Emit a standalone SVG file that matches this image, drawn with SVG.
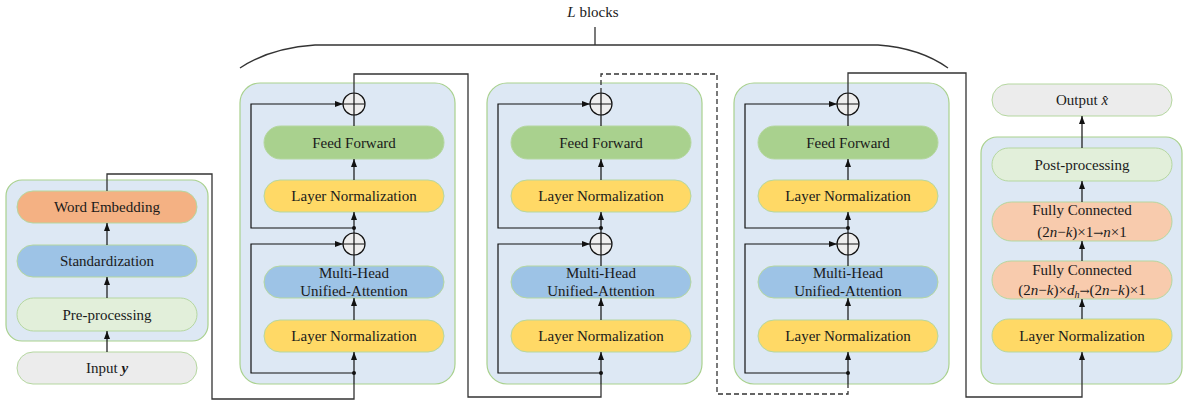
<svg xmlns="http://www.w3.org/2000/svg" width="1183" height="403" viewBox="0 0 1183 403">
  <style>
    text { font-family: "Liberation Serif", "Times New Roman", serif; font-size: 15px; fill: #1a1a1a; text-anchor: middle; }
    .panel { fill: #dde8f4; stroke: #a9d18e; stroke-width: 1.2; }
    .node { stroke: #b5d7a0; stroke-width: 1; }
    .ln { fill: #ffd966; }
    .ff { fill: #a9d18e; }
    .mha { fill: #9dc3e6; }
    .fc { fill: #f8cbad; }
    .pp { fill: #e2efda; }
    .io { fill: #ececec; }
    .we { fill: #f4b183; }
    .wire { fill: none; stroke: #111; stroke-width: 1.2; }
    .route { fill: none; stroke: #333; stroke-width: 1.3; }
    .dash { stroke-dasharray: 5 3; }
    .add { fill: #eeeeee; stroke: #111; stroke-width: 1.2; }
    .i { font-style: italic; }
    .arr { font-family: "DejaVu Serif", serif; font-size: 12px; }
  </style>
  <defs>
    <marker id="arrow" markerWidth="8" markerHeight="6" refX="8" refY="3" orient="auto" markerUnits="userSpaceOnUse">
      <path d="M0,0 L8,3 L0,6 z" fill="#111"/>
    </marker>
    <!-- one transformer block, drawn around centre x = 354 -->
    <g id="block">
      <rect class="panel" x="240" y="83" width="215" height="301" rx="20"/>
      <rect class="node ff" x="264" y="126" width="180" height="33" rx="16.5"/>
      <text x="354" y="147.5">Feed Forward</text>
      <rect class="node ln" x="264" y="180" width="180" height="32" rx="16"/>
      <text x="354" y="201">Layer Normalization</text>
      <rect class="node mha" x="264" y="266" width="180" height="32" rx="16"/>
      <text x="354" y="278">Multi-Head</text>
      <text x="354" y="296">Unified-Attention</text>
      <rect class="node ln" x="264" y="320" width="180" height="32" rx="16"/>
      <text x="354" y="341">Layer Normalization</text>
      <!-- residual adders -->
      <circle class="add" cx="354" cy="104" r="11"/>
      <path class="wire" d="M343,104 H365 M354,93 V115"/>
      <circle class="add" cx="354" cy="244" r="11"/>
      <path class="wire" d="M343,244 H365 M354,233 V255"/>
      <!-- main path -->
      <path class="wire" d="M354,115 V126"/>
      <path class="wire" d="M354,180 V159" marker-end="url(#arrow)"/>
      <path class="wire" d="M354,233 V212" marker-end="url(#arrow)"/>
      <path class="wire" d="M354,255 V266"/>
      <path class="wire" d="M354,320 V298" marker-end="url(#arrow)"/>
      <path class="wire" d="M354,384 V352" marker-end="url(#arrow)"/>
      <!-- skip connections -->
      <path class="wire" d="M354,228 H251 V104 H343" marker-end="url(#arrow)"/>
      <path class="wire" d="M354,373 H251 V244 H343" marker-end="url(#arrow)"/>
      <circle cx="354" cy="228" r="2" fill="#111"/>
      <circle cx="354" cy="373" r="2" fill="#111"/>
    </g>
  </defs>

  <!-- brace over the stacked blocks -->
  <g id="brace">
    <text x="593" y="17"><tspan class="i">L</tspan> blocks</text>
    <path class="route" d="M595,27 V45 M240,68 Q270,48 315,45 H878 Q920,48 948,68"/>
  </g>

  <!-- input pipeline -->
  <g id="input-panel">
    <rect class="panel" x="6" y="180" width="202" height="161" rx="16"/>
    <rect class="node we" x="17" y="191" width="180" height="32" rx="16"/>
    <text x="107" y="212">Word Embedding</text>
    <rect class="node mha" x="17" y="245" width="180" height="32" rx="16"/>
    <text x="107" y="266">Standardization</text>
    <rect class="node pp" x="17" y="298" width="180" height="33" rx="16.5"/>
    <text x="107" y="319.5">Pre-processing</text>
    <path class="wire" d="M107,245 V223" marker-end="url(#arrow)"/>
    <path class="wire" d="M107,298 V277" marker-end="url(#arrow)"/>
  </g>
  <g id="input">
    <rect class="node io" x="17" y="352" width="180" height="32" rx="16"/>
    <text x="107" y="373">Input <tspan class="i" font-weight="bold">y</tspan></text>
    <path class="wire" d="M107,352 V331" marker-end="url(#arrow)"/>
  </g>

  <g id="block-1"><use href="#block"/></g>
  <g id="block-2"><use href="#block" transform="translate(247,0)"/></g>
  <g id="block-3"><use href="#block" transform="translate(494,0)"/></g>

  <!-- output head -->
  <g id="output-panel">
    <rect class="panel" x="981" y="137" width="201" height="247" rx="16"/>
    <rect class="node pp" x="992" y="148" width="180" height="33" rx="16.5"/>
    <text x="1082" y="169.5">Post-processing</text>
    <rect class="node fc" x="992" y="202" width="180" height="39" rx="19.5"/>
    <text x="1082" y="215">Fully Connected</text>
    <text x="1082" y="237">(2<tspan class="i">n</tspan>−<tspan class="i">k</tspan>)×1<tspan class="arr">→</tspan><tspan class="i">n</tspan>×1</text>
    <rect class="node fc" x="992" y="261" width="180" height="38" rx="19"/>
    <text x="1082" y="275">Fully Connected</text>
    <text x="1082" y="295">(2<tspan class="i">n</tspan>−<tspan class="i">k</tspan>)×<tspan class="i">d</tspan><tspan class="i" font-size="10" dy="3">h</tspan><tspan class="arr" dy="-3">→</tspan>(2<tspan class="i">n</tspan>−<tspan class="i">k</tspan>)×1</text>
    <rect class="node ln" x="992" y="319" width="180" height="33" rx="16.5"/>
    <text x="1082" y="340.5">Layer Normalization</text>
    <path class="wire" d="M1082,319 V299" marker-end="url(#arrow)"/>
    <path class="wire" d="M1082,261 V241" marker-end="url(#arrow)"/>
    <path class="wire" d="M1082,202 V181" marker-end="url(#arrow)"/>
  </g>
  <g id="output">
    <rect class="node io" x="992" y="84" width="180" height="32" rx="16"/>
    <text x="1082" y="105">Output <tspan class="i">x̂</tspan></text>
    <path class="wire" d="M1082,148 V116" marker-end="url(#arrow)"/>
  </g>

  <!-- routing between stages -->
  <g id="connectors">
    <path class="route" d="M107,191 V174 H212 V399 H354 V384"/>
    <path class="route" d="M354,93 V74 H468 V397 H601 V384"/>
    <path class="route dash" d="M601,93 V74 H717 V394 H848 V384"/>
    <path class="route" d="M848,93 V73 H966 V397 H1082 V352" marker-end="url(#arrow)"/>
  </g>
</svg>
